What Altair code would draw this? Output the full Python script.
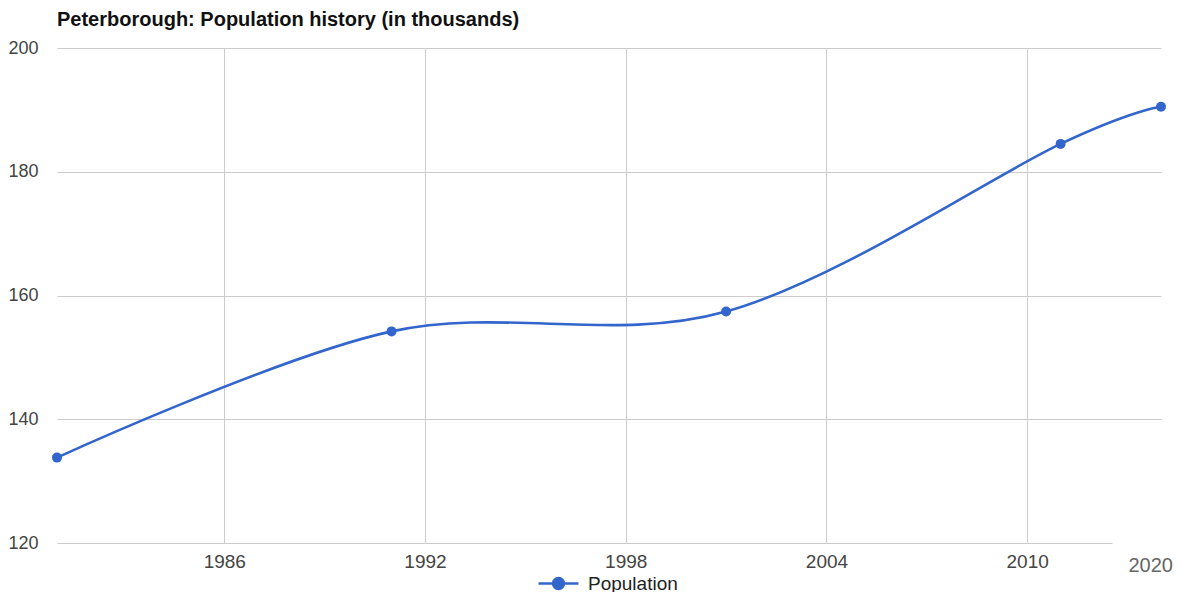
import altair as alt
import pandas as pd

years = [1981, 1991, 2001, 2011, 2014]
population = [133.8, 154.2, 157.4, 184.5, 190.5]
series = ["Population"] * len(years)
x_ticks = [1986, 1992, 1998, 2004, 2010]
y_ticks = [120, 140, 160, 180, 200]

df = pd.DataFrame({"year": years, "pop": population, "series": series})

FONT = "Liberation Sans"
BLUE = "#3366CC"

xscale = alt.Scale(domain=[1981, 2014], nice=False, zero=False)
yscale = alt.Scale(domain=[120, 200], nice=False, zero=False)

base = alt.Chart(df)

line = base.mark_line(interpolate="cardinal", strokeWidth=2.6).encode(
    x=alt.X("year:Q", scale=xscale,
            axis=alt.Axis(values=x_ticks, format="d", title=None, grid=True,
                          gridColor="#cccccc", domain=False, ticks=False,
                          labelFont=FONT, labelFontSize=19, labelColor="#444444",
                          labelPadding=9)),
    y=alt.Y("pop:Q", scale=yscale,
            axis=alt.Axis(values=y_ticks, title=None, grid=True,
                          gridColor="#cccccc", domain=False, ticks=False,
                          labelFont=FONT, labelFontSize=18, labelColor="#444444",
                          labelPadding=19)),
    color=alt.Color("series:N", scale=alt.Scale(range=[BLUE]),
                    legend=alt.Legend(title=None, orient="none", legendX=480, legendY=514,
                                      symbolType="M-1,0L1,0M-0.27,0A0.27,0.27 0 1,1 0.27,0A0.27,0.27 0 1,1 -0.27,0",
                                      symbolSize=1600, symbolStrokeWidth=2.6,
                                      symbolFillColor=BLUE, symbolStrokeColor=BLUE,
                                      labelFont=FONT, labelFontSize=19, labelColor="#222222",
                                      labelOffset=8, padding=0)),
)

points = base.mark_circle(size=100, opacity=1, color=BLUE).encode(
    x=alt.X("year:Q", scale=xscale),
    y=alt.Y("pop:Q", scale=yscale),
)

cover_df = pd.DataFrame({"x1": [2012.55], "x2": [2014.5], "y": [120]})
cover = alt.Chart(cover_df).mark_rule(color="white", strokeWidth=3).encode(
    x="x1:Q", x2="x2:Q", y="y:Q"
)

label_df = pd.DataFrame({"x": [2014], "y": [120], "t": ["2020"]})
label = alt.Chart(label_df).mark_text(font=FONT, fontSize=20, color="#666666",
                                      baseline="middle", align="right", dx=12, dy=23).encode(
    x="x:Q", y="y:Q", text="t:N"
)

chart = alt.layer(line, points, cover, label).properties(
    width=1104, height=495,
    autosize=alt.AutoSizeParams(type="none"),
    padding={"left": 49, "top": 40, "right": 13, "bottom": 49},
    title=alt.Title("Peterborough: Population history (in thousands)",
                    anchor="start", frame="group", font=FONT, fontSize=20, fontWeight="bold",
                    color="#111111", offset=9),
).configure_view(stroke=None).configure_axis(gridWidth=1)

chart.save("out.html", embed_options={"renderer": "svg", "actions": False})
